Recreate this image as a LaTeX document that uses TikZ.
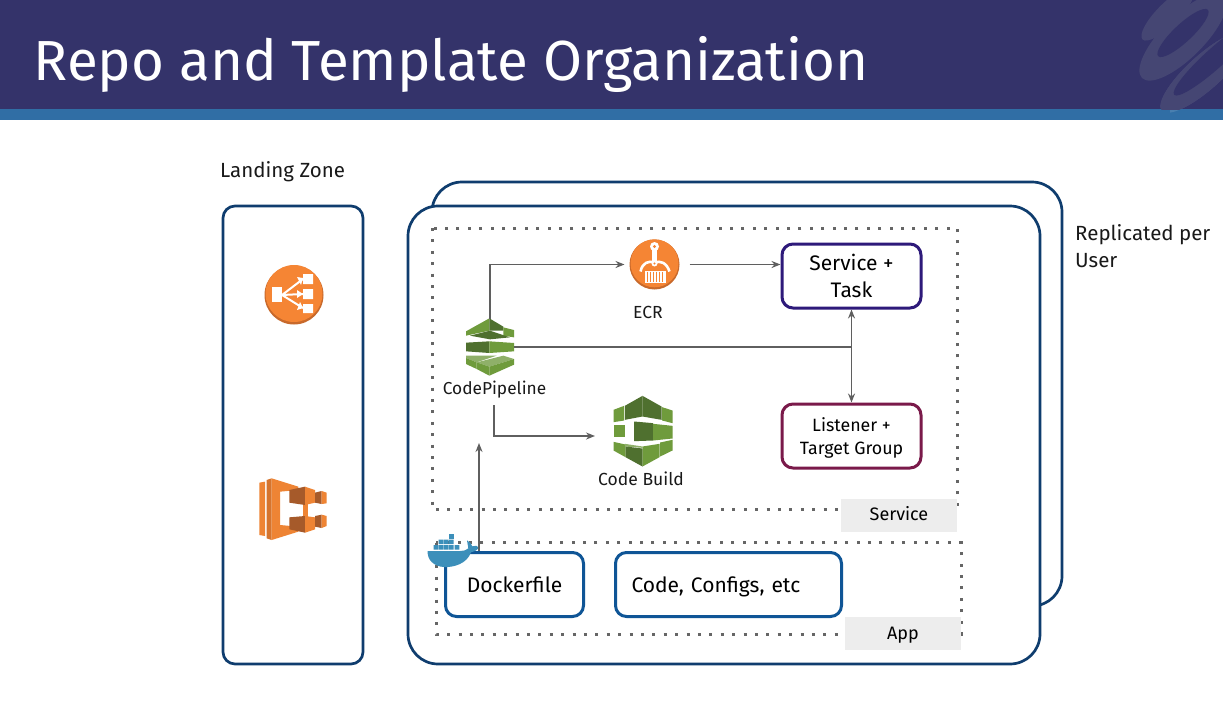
\documentclass[tikz,border=0pt]{standalone}
\usepackage{fontspec}
\setmainfont{Fira Sans}
\usetikzlibrary{positioning,calc,arrows.meta}
\definecolor{headbg}{HTML}{34336A}
\definecolor{headband}{HTML}{306EA5}
\definecolor{swirl}{HTML}{454673}
\definecolor{framecol}{HTML}{0F3D6E}
\definecolor{blueline}{HTML}{0F5596}
\definecolor{purpleline}{HTML}{2E1A7A}
\definecolor{maroonline}{HTML}{7A1A4A}
\definecolor{arrowcol}{HTML}{5F5F5F}
\definecolor{dotcol}{HTML}{666666}
\definecolor{tagbg}{HTML}{EDEDED}
\definecolor{awsorange}{HTML}{F58534}
\definecolor{awsshade}{HTML}{C8692B}
\definecolor{ecsmain}{HTML}{EE8434}
\definecolor{ecsside}{HTML}{D5742E}
\definecolor{ecsdark}{HTML}{A65A2A}
\definecolor{greenmid}{HTML}{6F9B3C}
\definecolor{greenlight}{HTML}{8FB069}
\definecolor{greendark}{HTML}{4F702F}
\definecolor{whaleblue}{HTML}{3C8FBA}
\tikzset{
  frame/.style={draw=framecol,line width=2.7pt,rounded corners=#1,fill=white},
  card/.style={draw=#1,line width=3pt,rounded corners=11pt,fill=white,align=center,
    minimum width=139pt,minimum height=64pt,inner sep=0pt},
  dotbox/.style={draw=dotcol,line width=3pt,dash pattern=on 3pt off 8.4pt},
  tagbox/.style={fill=tagbg,minimum width=116pt,minimum height=33pt,inner sep=0pt,text height=14pt,text depth=2.5pt,font=\fontsize{18}{20}\selectfont},
  caption/.style={inner sep=0pt,align=left,text=black!90,font=\fontsize{20.5}{27}\selectfont},
  iconbox/.style={inner sep=0pt,outer sep=0pt},
  link/.style={draw=arrowcol,line width=1.5pt,-{Stealth[length=9pt,width=7pt]}},
  plain link/.style={draw=arrowcol,line width=1.5pt},
  pics/lbicon/.style={code={
    \fill[awsshade] (0,0) circle (29.5);
    \fill[awsorange] (0,-1.5) circle (28.5);
    \fill[white] (-22.5,-8) rectangle (-12,7);
    \fill[white] (9,-21) rectangle (19,-11) (9,-6) rectangle (19,4) (9,9) rectangle (19,18);
    \draw[white,line width=2pt] (-12,0) -- (9,-16) (-12,0) -- (9,-1) (-12,0) -- (9,13);
    \fill[white] (3,-18) -- (9,-17) -- (7,-10) -- cycle (3,-5) -- (9,-1) -- (3,3) -- cycle (3,15) -- (9,13) -- (6,7) -- cycle;
  }},
  pics/ecsicon/.style={code={\begin{scope}[scale=1/3,shift={(-219,-747)}]
    \fill[ecsmain] (118,668) -- (135,665) -- (135,828) -- (118,825) -- cycle;
    \fill[ecsside] (140,660) -- (155,655) -- (155,840) -- (140,835) -- cycle;
    \fill[ecsmain] (155,655) -- (235,680) -- (235,690) -- (180,695) -- (180,795) -- (235,800) -- (235,815) -- (155,840) -- cycle;
    \fill[ecsmain] (248,730) rectangle (265,770);
    \fill[ecsdark] (208,690) -- (255,680) -- (255,735) -- (208,728) -- cycle;
    \fill[ecsmain] (255,680) -- (285,690) -- (285,728) -- (255,735) -- cycle;
    \fill[ecsdark] (285,698) -- (305,693) -- (305,732) -- (285,728) -- cycle;
    \fill[ecsmain] (305,693) -- (320,698) -- (320,730) -- (305,732) -- cycle;
    \fill[ecsdark] (208,772) -- (255,768) -- (255,818) -- (208,808) -- cycle;
    \fill[ecsmain] (255,768) -- (285,772) -- (285,808) -- (255,818) -- cycle;
    \fill[ecsdark] (285,768) -- (305,764) -- (305,804) -- (285,800) -- cycle;
    \fill[ecsmain] (305,764) -- (320,768) -- (320,798) -- (305,804) -- cycle;
  \end{scope}}},
  pics/ecricon/.style={code={
    \fill[awsshade] (0,0) circle (25);
    \fill[awsorange] (0,-1.2) circle (24);
    \fill[white] (-10,6) rectangle (11,18);
    \draw[awsorange,line width=.5pt] (-7,7) -- (-7,17) (-4,7) -- (-4,17) (-1,7) -- (-1,17) (2,7) -- (2,17) (5,7) -- (5,17) (8,7) -- (8,17);
    \draw[white,line width=2.6pt] (-14,7) .. controls (-12,-2) and (-6,-4) .. (0,-2) .. controls (6,-4) and (12,-2) .. (15,7);
    \fill[white] (-2.5,-15) rectangle (2.5,-2);
    \fill[white] (0,-18) circle (4.5);
    \fill[awsorange] (0,-18) circle (1.6);
    \fill[white] (0,-1) circle (3);
    \fill[awsorange] (0,-1) circle (1.2);
  }},
  pics/pipelineicon/.style={code={\begin{scope}[scale=1/3,shift={(-210,-379)}]
    \fill[greenmid] (138,332) -- (208,293) -- (208,330) -- (138,345) -- cycle;
    \fill[greendark] (208,293) -- (250,318) -- (250,330) -- (208,330) -- cycle;
    \fill[greenmid] (250,320) -- (282,328) -- (282,350) -- (250,345) -- cycle;
    \fill[greendark] (150,345) -- (210,330) -- (270,350) -- (210,356) -- cycle;
    \fill[greendark] (138,366) -- (208,362) -- (208,397) -- (138,392) -- cycle;
    \fill[greenmid] (208,362) -- (282,367) -- (282,392) -- (208,397) -- cycle;
    \fill[greenlight] (138,405) -- (230,405) -- (170,425) -- (138,412) -- cycle;
    \fill[greenmid] (138,412) -- (170,425) -- (170,445) -- (138,430) -- cycle;
    \fill[greenlight] (170,425) -- (250,405) -- (282,415) -- (208,438) -- cycle;
    \fill[greenmid] (170,425) -- (208,438) -- (208,465) -- (170,445) -- cycle;
    \fill[greenmid] (208,438) -- (282,415) -- (282,432) -- (208,465) -- cycle;
  \end{scope}}},
  pics/buildicon/.style={code={\begin{scope}[scale=1/3,shift={(-665,-635)}]
    \fill[greendark] (612,558) -- (665,528) -- (665,590) -- (612,600) -- cycle;
    \fill[greendark] (665,528) -- (722,560) -- (722,600) -- (665,590) -- cycle;
    \fill[greenmid] (578,570) -- (610,558) -- (610,602) -- (578,607) -- cycle;
    \fill[greenmid] (724,562) -- (755,572) -- (755,610) -- (724,602) -- cycle;
    \fill[greenmid] (578,615) -- (612,615) -- (612,652) -- (578,652) -- cycle;
    \fill[greendark] (640,605) -- (697,610) -- (697,662) -- (640,664) -- cycle;
    \fill[greenmid] (697,612) -- (755,618) -- (755,656) -- (697,662) -- cycle;
    \fill[greenmid] (578,666) -- (614,674) -- (614,712) -- (578,692) -- cycle;
    \fill[greenlight] (612,672) -- (665,680) -- (665,684) -- (612,680) -- cycle;
    \fill[greendark] (614,680) -- (665,686) -- (665,740) -- (614,712) -- cycle;
    \fill[greenmid] (665,680) -- (716,672) -- (716,712) -- (665,740) -- cycle;
    \fill[greenmid] (718,668) -- (755,660) -- (755,692) -- (718,710) -- cycle;
  \end{scope}}},
  pics/dockericon/.style={code={\begin{scope}[scale=1/3,shift={(-128,-184)}]
    \fill[whaleblue] (52,184) -- (150,184) .. controls (160,184) and (168,182) .. (174,176) -- (170,152) .. controls (178,156) and (184,164) .. (186,170) .. controls (194,166) and (202,168) .. (206,174) .. controls (198,184) and (190,186) .. (182,188) .. controls (170,222) and (130,234) .. (100,232) .. controls (70,230) and (50,210) .. (52,184) -- cycle;
    \fill[whaleblue] (70,166) rectangle (83,180) (85,166) rectangle (98,180) (100,166) rectangle (113,180) (115,166) rectangle (130,180) (133,166) rectangle (147,180);
    \fill[whaleblue] (85,150) rectangle (98,163) (100,150) rectangle (113,163) (115,150) rectangle (130,163);
    \fill[whaleblue] (116,134) rectangle (131,148);
  \end{scope}}},
}
\begin{document}
\begin{tikzpicture}[x=1pt,y=-1pt]
  \useasboundingbox (0,0) rectangle (1223,701);
  \fill[white] (0,0) rectangle (1223,701);
  % header
  \fill[headbg] (0,0) rectangle (1223,109);
  \fill[headband] (0,109) rectangle (1223,120);
  \begin{scope}
    \clip (1100,0) rectangle (1223,120);
    \fill[white,opacity=.12,rotate around={42:(1205,72)}] (1205,72) ellipse (58 and 17);
    \fill[headband] (1100,109) rectangle (1170,120);
    \begin{scope}
      \clip (1100,0) rectangle (1223,109);
      \fill[swirl,rotate around={42:(1205,72)}] (1205,72) ellipse (58 and 17);
      \fill[headbg,rotate around={42:(1215,58)}] (1215,58) ellipse (55 and 10);
      \fill[swirl,rotate around={45:(1183,37)}] (1183,37) ellipse (58 and 21);
      \fill[headbg,rotate around={43:(1183,33)}] (1183,33) ellipse (34 and 9);
      \fill[swirl,rotate around={45:(1168,14)}] (1168,14) ellipse (36 and 11);
    \end{scope}
  \end{scope}
  \node[anchor=west,inner sep=0pt,text=white,font=\fontsize{56.5}{60}\selectfont] (title) at (33.5,64) {Repo and Template Organization};
  % landing zone
  \node[caption,anchor=west] (landing) at (220,172) {Landing Zone};
  \draw[frame=12pt] (223,206) rectangle (363,664);
  \node[iconbox,minimum size=58pt] (elb) at (294,295) {};
  \pic at (elb.center) {lbicon};
  \node[iconbox,minimum width=68pt,minimum height=62pt] (ecs) at (293,509) {};
  \pic at (ecs.center) {ecsicon};
  % replicated account
  \draw[frame=30pt] (432,182) rectangle (1062,606);
  \draw[frame=30pt] (408,206) rectangle (1040,664);
  \node[caption,anchor=north west] (replicated) at (1075,224) {Replicated per\\User};
  % service group
  \draw[dotbox] (432,228) rectangle (957,509);
  \node[tagbox] (servicetag) at (899,515) {Service};
  \node[card=purpleline,font=\fontsize{21}{27}\selectfont] (service) at (851.5,276) {Service +\\Task};
  \node[card=maroonline,text depth=0pt,font=\fontsize{17.8}{23}\selectfont] (listener) at (851.5,436) {Listener +\\Target Group};
  \node[iconbox,minimum size=50pt] (ecr) at (654.5,264.5) {};
  \pic at (ecr.center) {ecricon};
  \node[caption,font=\fontsize{17.5}{20}\selectfont,align=center] (ecrlabel) at (648,312.5) {ECR};
  \node[iconbox,minimum width=48pt,minimum height=57pt] (pipeline) at (490,347) {};
  \pic at (pipeline.center) {pipelineicon};
  \node[caption,font=\fontsize{17.3}{20}\selectfont,align=center] (pipelinelabel) at (494.5,389.5) {CodePipeline};
  \node[iconbox,minimum width=59pt,minimum height=71pt] (build) at (642.5,431.5) {};
  \pic at (build.center) {buildicon};
  \node[caption,font=\fontsize{17.5}{20}\selectfont,align=center] (buildlabel) at (641,478.5) {Code Build};
  % app group
  \draw[dotbox] (436,542.5) rectangle (961,634);
  \node[tagbox] (apptag) at (903,633.5) {App};
  \node[card=blueline,minimum width=138pt,text height=18pt,text depth=2pt,font=\fontsize{21}{27}\selectfont] (dockerfile) at (514.5,584.5) {Dockerfile};
  \node[card=blueline,minimum width=226pt,text width=194pt,align=left,text height=18pt,text depth=2pt,font=\fontsize{21}{27}\selectfont] (code) at (728.5,584.5) {Code, Configs, etc};
  \node[iconbox,minimum width=51pt,minimum height=34pt] (docker) at (453,551) {};
  \pic at (docker.center) {dockericon};
  % connectors
  \coordinate (junction) at (service.south |- pipeline.east);
  \coordinate (dockerout) at (479,443);
  \coordinate (pipelineout) at (494,405);
  \coordinate (buildin) at ($(build.west)+(0,4.5)$);
  \draw[link,shorten >=5pt] (pipeline.north) |- (ecr.west);
  \draw[link,shorten <=10pt] (ecr.east) -- (service.west |- ecr.east);
  \draw[plain link] (pipeline.east) -- (junction);
  \draw[link] (junction) -- (service.south);
  \draw[link] (junction) -- (listener.north);
  \draw[link,shorten >=18pt] (pipelineout) |- (buildin);
  \draw[link] (dockerfile.north -| dockerout) -- (dockerout);
\end{tikzpicture}
\end{document}
